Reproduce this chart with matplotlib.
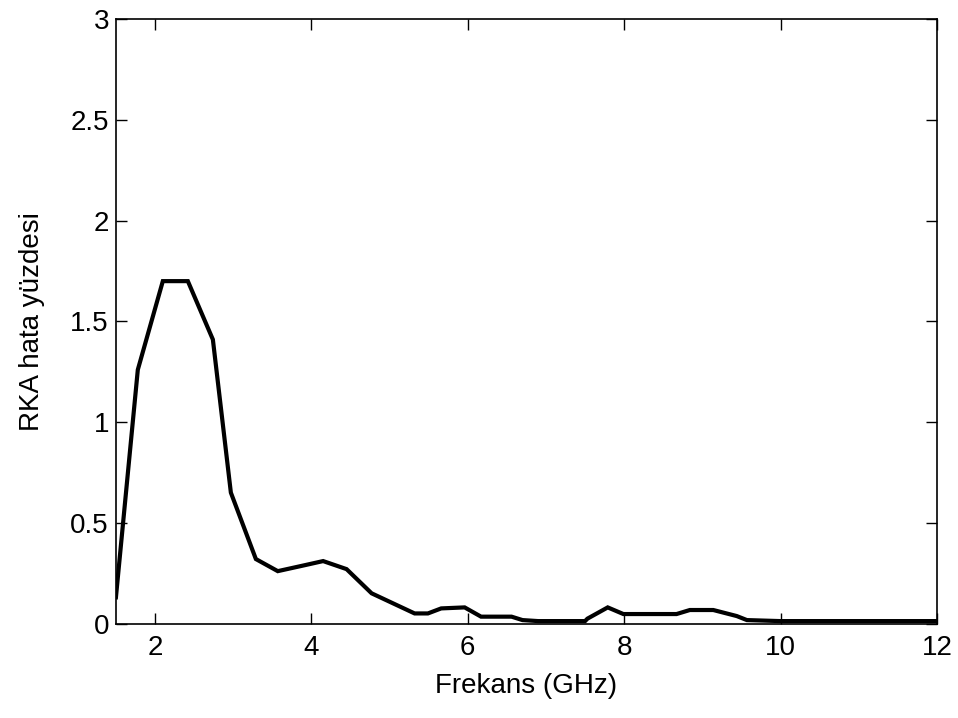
import matplotlib
matplotlib.use("Agg")
import matplotlib.pyplot as plt

# Frequency (GHz) and RKA error percentage along the curve
frekans = [1.5, 1.78, 2.10, 2.42, 2.74, 2.97, 3.29, 3.57, 3.92, 4.15, 4.45,
           4.77, 5.32, 5.49, 5.66, 5.96, 6.17, 6.56, 6.70, 6.90, 7.50, 7.53,
           7.79, 7.99, 8.67, 8.84, 9.14, 9.44, 9.57, 10.0, 12.0]
hata = [0.13, 1.26, 1.70, 1.70, 1.41, 0.65, 0.32, 0.26, 0.29, 0.31, 0.27,
        0.15, 0.05, 0.05, 0.075, 0.08, 0.034, 0.034, 0.017, 0.012, 0.012, 0.024,
        0.08, 0.047, 0.047, 0.067, 0.067, 0.037, 0.017, 0.012, 0.012]

x_ticks = [2, 4, 6, 8, 10, 12]
y_ticks = [0, 0.5, 1, 1.5, 2, 2.5, 3]
y_tick_labels = ["0", "0.5", "1", "1.5", "2", "2.5", "3"]

plt.rcParams["font.family"] = ["Liberation Sans", "DejaVu Sans"]

fig = plt.figure(figsize=(9.58, 7.18), dpi=100)
ax = fig.add_axes([0.121, 0.1316, 0.857, 0.8415])

ax.plot(frekans, hata, color="black", linewidth=3.0, solid_joinstyle="miter")

ax.set_xlim(1.5, 12)
ax.set_ylim(0, 3)
ax.set_xticks(x_ticks)
ax.set_xticklabels([str(t) for t in x_ticks])
ax.set_yticks(y_ticks)
ax.set_yticklabels(y_tick_labels)

ax.tick_params(direction="in", length=8, width=1.0, top=True, right=True,
               labelsize=20, colors="black")
ax.tick_params(axis="x", pad=8)
ax.tick_params(axis="y", pad=5)
for s in ax.spines.values():
    s.set_linewidth(1.2)

ax.set_xlabel("Frekans (GHz)", fontsize=20, labelpad=9)
ax.set_ylabel("RKA hata yüzdesi", fontsize=20, labelpad=18)

fig.savefig("out.png", dpi=100, facecolor="white")
